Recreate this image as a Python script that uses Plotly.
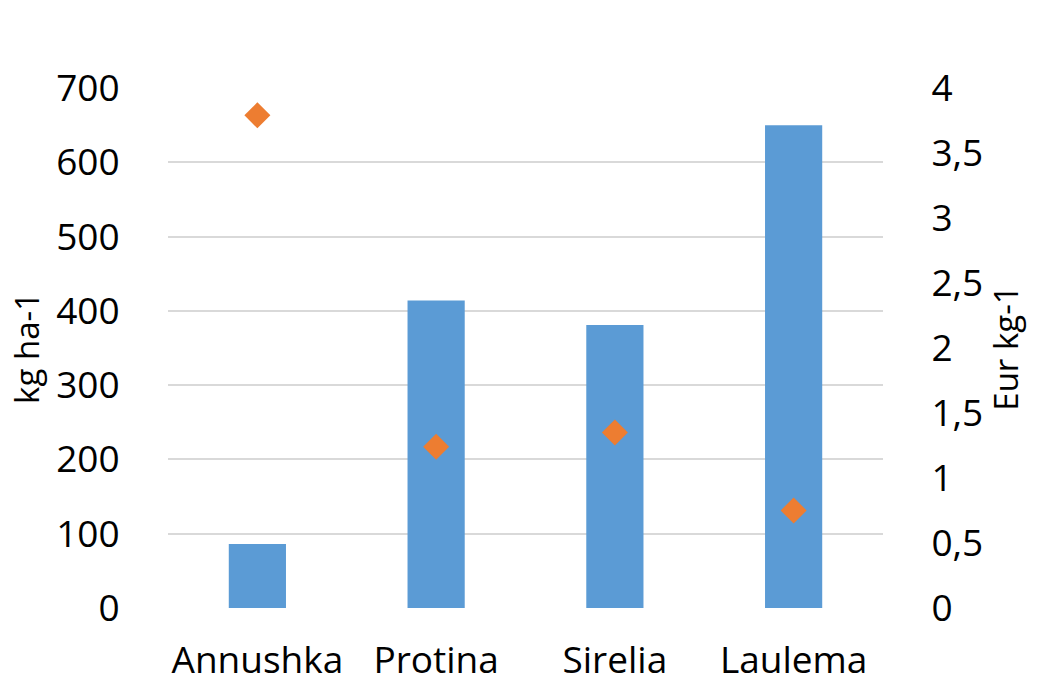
import plotly.graph_objects as go

# Varieties and their values
varieties = ["Annushka", "Protina", "Sirelia", "Laulema"]
yield_kg_ha = [86, 414, 381, 650]        # bars, left axis (kg ha-1)
price_eur_kg = [3.79, 1.24, 1.35, 0.75]  # diamonds, right axis (Eur kg-1)

left_ticks = [0, 100, 200, 300, 400, 500, 600, 700]
right_ticks = [0, 0.5, 1, 1.5, 2, 2.5, 3, 3.5, 4]

FONT = "Open Sans"
TICK_SIZE = 37
TITLE_SIZE = 33

fig = go.Figure()

fig.add_trace(go.Bar(
    x=varieties,
    y=yield_kg_ha,
    marker=dict(color="#5B9BD5", line=dict(width=0)),
    width=0.32,
    name="kg ha-1",
    yaxis="y",
))

fig.add_trace(go.Scatter(
    x=varieties,
    y=price_eur_kg,
    mode="markers",
    marker=dict(symbol="diamond", size=20, color="#ED7D31", line=dict(width=0)),
    name="Eur kg-1",
    yaxis="y2",
))

fig.update_layout(
    width=1038,
    height=685,
    margin=dict(l=168, r=155, t=88, b=77, pad=0),
    paper_bgcolor="white",
    plot_bgcolor="white",
    showlegend=False,
    separators=", ",
    font=dict(family=FONT, color="#000000", size=TICK_SIZE),
    xaxis=dict(
        automargin=False,
        showgrid=False,
        showline=False,
        zeroline=False,
        ticks="outside",
        ticklen=20,
        tickcolor="rgba(0,0,0,0)",
        tickfont=dict(family=FONT, size=TICK_SIZE, color="#000000"),
    ),
    yaxis=dict(
        automargin=False,
        range=[0, 700],
        tickvals=left_ticks,
        showgrid=True,
        gridcolor="#D9D9D9",
        gridwidth=1.5,
        zeroline=False,
        showline=False,
        ticks="outside",
        ticklen=40,
        tickcolor="rgba(0,0,0,0)",
        tickfont=dict(family=FONT, size=TICK_SIZE, color="#000000"),
        title=dict(text="kg ha-1", font=dict(family=FONT, size=TITLE_SIZE, color="#000000"), standoff=6),
    ),
    yaxis2=dict(
        automargin=False,
        range=[0, 4],
        tickvals=right_ticks,
        overlaying="y",
        side="right",
        showgrid=False,
        zeroline=False,
        showline=False,
        ticks="outside",
        ticklen=40,
        tickcolor="rgba(0,0,0,0)",
        tickfont=dict(family=FONT, size=TICK_SIZE, color="#000000"),
        title=dict(text="Eur kg-1", font=dict(family=FONT, size=TITLE_SIZE, color="#000000"), standoff=6),
    ),
)

fig.write_html("out.html")
